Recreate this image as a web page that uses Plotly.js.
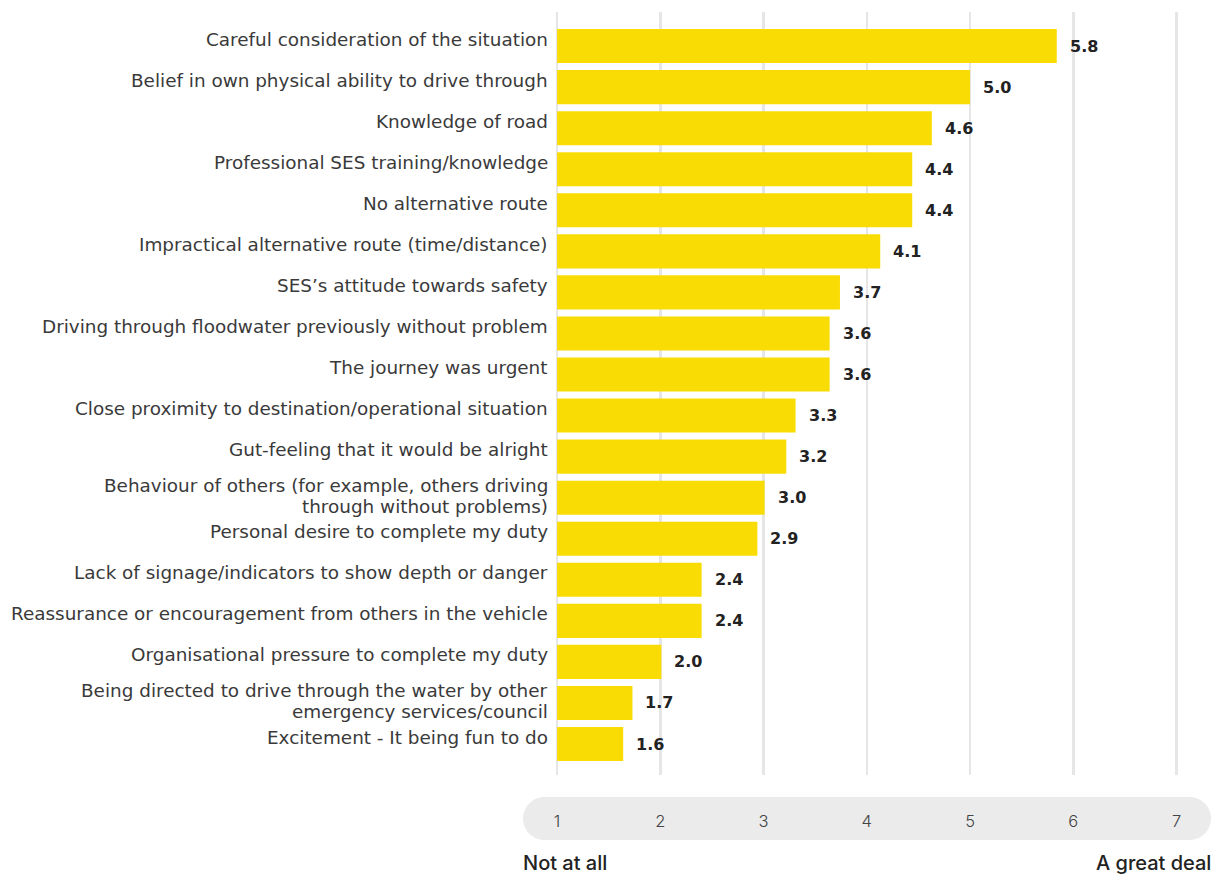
<!DOCTYPE html>
<html>
<head>
<meta charset="utf-8">
<script src="https://cdn.plot.ly/plotly-3.0.1.min.js"></script>
<style>html,body{margin:0;padding:0;background:#fff;}#chart{width:1211px;height:874px;}</style>
</head>
<body>
<div id="chart"></div>
<script>
const categories = [
  "Careful consideration of the situation",
  "Belief in own physical ability to drive through",
  "Knowledge of road",
  "Professional SES training/knowledge",
  "No alternative route",
  "Impractical alternative route (time/distance)",
  "SES’s attitude towards safety",
  "Driving through floodwater previously without problem",
  "The journey was urgent",
  "Close proximity to destination/operational situation",
  "Gut-feeling that it would be alright",
  "Behaviour of others (for example, others driving<br>through without problems)",
  "Personal desire to complete my duty",
  "Lack of signage/indicators to show depth or danger",
  "Reassurance or encouragement from others in the vehicle",
  "Organisational pressure to complete my duty",
  "Being directed to drive through the water by other<br>emergency services/council",
  "Excitement - It being fun to do"
];
const values = [5.84, 5.00, 4.63, 4.44, 4.44, 4.13, 3.74, 3.64, 3.64, 3.31, 3.22, 3.01, 2.94, 2.40, 2.40, 2.01, 1.73, 1.64];
const valueLabels = ["5.8","5.0","4.6","4.4","4.4","4.1","3.7","3.6","3.6","3.3","3.2","3.0","2.9","2.4","2.4","2.0","1.7","1.6"];
const scaleMin = 1;
const tickVals = [1, 2, 3, 4, 5, 6, 7];
const tickText = ["1", "2", "3", "4", "5", "6", "7"];
const lowLabel = "Not at all";
const highLabel = "A great deal";

const LABEL_FONT = {family: "DejaVu Sans, sans-serif", size: 18.4, color: "#3a3a3a", weight: 400};
const VALUE_FONT = {family: "DejaVu Sans, sans-serif", size: 16, color: "#222", weight: 700};
const END_FONT = {family: "Inter, sans-serif", size: 20, color: "#222", weight: 500};

const barTrace = {
  type: "bar",
  orientation: "h",
  y: categories,
  x: values.map(v => v - scaleMin),
  base: scaleMin,
  width: 0.83,
  marker: {color: "#FADC05"},
  hoverinfo: "skip"
};

const annotations = [];
categories.forEach((c, i) => {
  const lines = c.split("<br>");
  const shifts = lines.length === 1 ? [7] : [12, -8.5];
  lines.forEach((ln, k) => {
    annotations.push({
      x: 0, xref: "paper", y: c, yref: "y", text: ln, showarrow: false,
      xanchor: "right", yanchor: "middle", xshift: -4, yshift: shifts[k],
      font: LABEL_FONT
    });
  });
});
values.forEach((v, i) => annotations.push({
  x: v, y: categories[i], xref: "x", yref: "y",
  text: valueLabels[i], showarrow: false, xanchor: "left", yanchor: "middle",
  xshift: 11, font: VALUE_FONT
}));
annotations.push({
  x: 0, y: 0, xref: "paper", yref: "paper", xshift: -33, yshift: -88,
  xanchor: "left", yanchor: "middle", text: lowLabel, showarrow: false, font: END_FONT
});
annotations.push({
  x: 1, y: 0, xref: "paper", yref: "paper", xshift: 21, yshift: -88,
  xanchor: "right", yanchor: "middle", text: highLabel, showarrow: false, font: END_FONT
});

const pill = {
  type: "path", xref: "paper", yref: "paper",
  xsizemode: "pixel", ysizemode: "pixel", xanchor: 0, yanchor: 0,
  path: "M -9.5,-22 L 635.5,-22 C 647.37,-22 657,-31.63 657,-43.5 C 657,-55.37 647.37,-65 635.5,-65 L -9.5,-65 C -21.37,-65 -31,-55.37 -31,-43.5 C -31,-31.63 -21.37,-22 -9.5,-22 Z",
  fillcolor: "#EBEBEB", line: {width: 0}, layer: "below"
};

const layout = {
  width: 1211, height: 874,
  margin: {l: 554, r: 19, t: 12, b: 99},
  paper_bgcolor: "#fff", plot_bgcolor: "#fff",
  showlegend: false,
  xaxis: {
    range: [0.97, 7.15], tickvals: tickVals, ticktext: tickText,
    showgrid: true, gridcolor: "#E6E6E6", gridwidth: 2.5, zeroline: false,
    showline: false, ticks: "", ticklabelstandoff: 34,
    tickfont: {family: "Inter, sans-serif", size: 16.5, color: "#444", weight: 300}, fixedrange: true
  },
  yaxis: {
    range: [17.755, -0.83], showgrid: false, zeroline: false, showline: false,
    ticks: "", showticklabels: false, fixedrange: true
  },
  shapes: [pill],
  annotations: annotations
};

Plotly.newPlot("chart", [barTrace], layout, {displayModeBar: false, staticPlot: true});
</script>
</body>
</html>
